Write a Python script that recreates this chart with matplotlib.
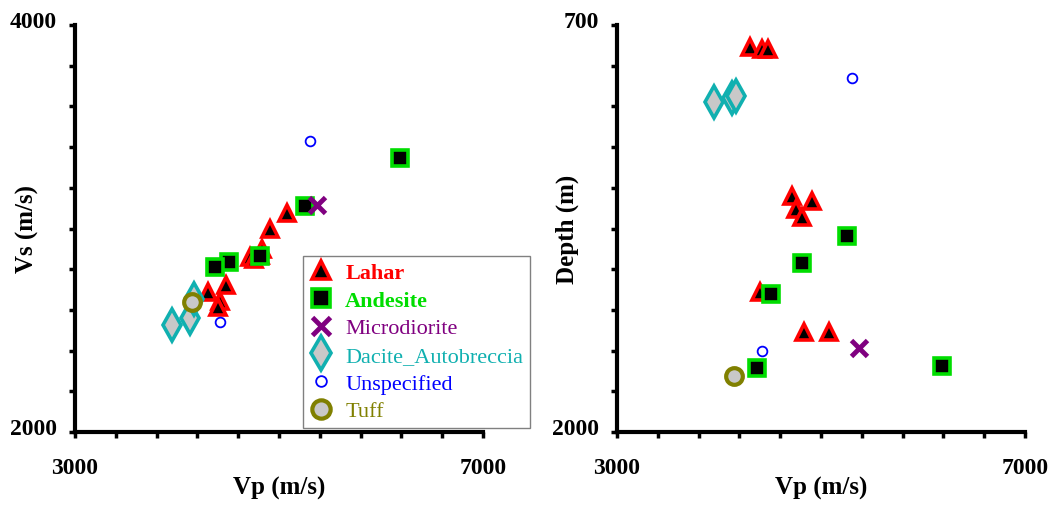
import matplotlib
matplotlib.use("Agg")
import matplotlib.pyplot as plt
from matplotlib.transforms import ScaledTranslation

# data (Vp, Vs in m/s, depth in m)
lahar_vp = [4304, 4418, 4477, 4712, 4909, 4752, 4810, 4402, 4833, 5078]
lahar_vs = [2690, 2645, 2722, 2858, 2998, 2852, 2872, 2615, 2899, 3075]
lahar_depth = [771, 777, 777, 1245, 1261, 1288, 1314, 1554, 1681, 1681]

andesite_vp = [5250, 4816, 4508, 4375, 6182]
andesite_vs = [3109, 2866, 2834, 2809, 3346]
andesite_depth = [1375, 1461, 1559, 1795, 1790]

micro_vp = [5372]
micro_vs = [3117]
micro_depth = [1733]

dacite_vp = [3952, 4126, 4165]
dacite_vs = [2528, 2558, 2655]
dacite_depth = [947, 933, 926]

unspec_vp = [5300, 4424]
unspec_vs = [3431, 2540]
unspec_depth = [870, 1740]

tuff_vp = [4148]
tuff_vs = [2638]
tuff_depth = [1820]

RED = "#ff0000"
GREEN = "#00dd00"
PURPLE = "#800080"
TEAL = "#10b0b0"
BLUE = "#0000ff"
OLIVE = "#808000"
GRAY = "#c8c8c8"

plt.rcParams["font.family"] = ["Liberation Serif", "DejaVu Serif"]


def draw(ax, ykey):
    series = [
        ("Lahar", lahar_vp, {"vs": lahar_vs, "d": lahar_depth},
         dict(marker="^", ms=12, mfc="black", mec=RED, mew=2.6)),
        ("Andesite", andesite_vp, {"vs": andesite_vs, "d": andesite_depth},
         dict(marker="s", ms=12, mfc="black", mec=GREEN, mew=2.6)),
        ("Microdiorite", micro_vp, {"vs": micro_vs, "d": micro_depth},
         dict(marker="x", ms=12, mec=PURPLE, mew=3.5)),
        ("Dacite_Autobreccia", dacite_vp, {"vs": dacite_vs, "d": dacite_depth},
         dict(marker="d", ms=16, mfc=GRAY, mec=TEAL, mew=2.6)),
        ("Unspecified", unspec_vp, {"vs": unspec_vs, "d": unspec_depth},
         dict(marker="o", ms=7, mfc="white", mec=BLUE, mew=1.3)),
        ("Tuff", tuff_vp, {"vs": tuff_vs, "d": tuff_depth},
         dict(marker="o", ms=12, mfc=GRAY, mec=OLIVE, mew=3)),
    ]
    for name, xs, ys, style in series:
        ax.plot(xs, ys[ykey], linestyle="none", label=name, **style)


def style_axes(ax, ymin, ymax, ystep):
    for s in ["top", "right"]:
        ax.spines[s].set_visible(False)
    for s in ["left", "bottom"]:
        ax.spines[s].set_linewidth(3)
    ax.set_xlim(3000, 7000)
    ax.set_xticks([3000, 7000])
    ax.set_xticks(range(3000, 7001, 400), minor=True)
    lo, hi = min(ymin, ymax), max(ymin, ymax)
    ax.set_yticks([lo, hi])
    ax.set_yticks(range(lo, hi + 1, ystep), minor=True)
    ax.tick_params(which="both", direction="out", length=4, width=2.5)
    ax.tick_params(axis="x", which="major", pad=14, labelsize=17)
    ax.tick_params(axis="y", which="major", pad=9, labelsize=17)
    for lab in ax.get_xticklabels() + ax.get_yticklabels():
        lab.set_fontweight("bold")
    fig = ax.figure
    for lab in ax.get_yticklabels():
        lab.set_transform(lab.get_transform()
                          + ScaledTranslation(0, 0.06, fig.dpi_scale_trans))
    ax.set_ylim(ymin, ymax)
    ax.set_xlabel("Vp (m/s)", fontsize=18, fontweight="bold")
    ax.xaxis.set_label_coords(0.5, -55 / 407)
    ax.xaxis.label.set_va("center")


fig = plt.figure(figsize=(10.52, 5.06), dpi=100)
ax1 = fig.add_axes([75 / 1052, 73 / 506, 408 / 1052, 407 / 506])
ax2 = fig.add_axes([617 / 1052, 73 / 506, 408 / 1052, 407 / 506])

draw(ax1, "vs")
style_axes(ax1, 2000, 4000, 200)
ax1.set_ylabel("Vs (m/s)", fontsize=18, fontweight="bold")
ax1.yaxis.set_label_coords(-48 / 408, 0.5)
ax1.yaxis.label.set_va("center")

draw(ax2, "d")
style_axes(ax2, 2000, 700, 130)
ax2.set_ylabel("Depth (m)", fontsize=18, fontweight="bold")
ax2.yaxis.set_label_coords(-50 / 408, 0.5)
ax2.yaxis.label.set_va("center")

leg = ax1.legend(loc="lower left", bbox_to_anchor=(303 / 1052, 77 / 506),
                 bbox_transform=fig.transFigure, fontsize=16, frameon=True,
                 fancybox=False, edgecolor="#808080", framealpha=1,
                 borderpad=0.3, labelspacing=0.32, handlelength=1.0,
                 handletextpad=0.6, borderaxespad=0, markerscale=1.1)
leg.get_frame().set_linewidth(1)
leg_colors = [RED, GREEN, PURPLE, TEAL, BLUE, OLIVE]
for txt, c in zip(leg.get_texts(), leg_colors):
    txt.set_color(c)
leg.get_texts()[0].set_fontweight("bold")
leg.get_texts()[1].set_fontweight("bold")

fig.savefig("out.png", dpi=100)
